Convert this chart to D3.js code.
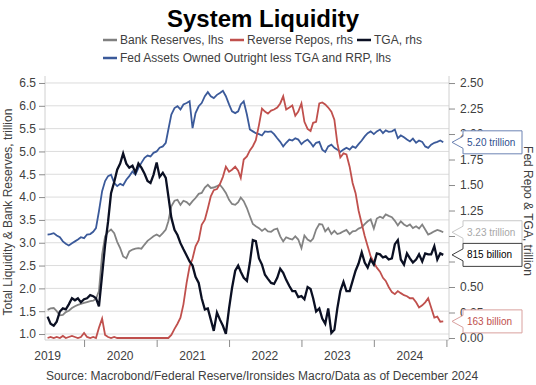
<html>
<head>
<meta charset="utf-8">
<script src="https://cdn.jsdelivr.net/npm/d3@7"></script>
<style>
  body { margin: 0; background: #fff; }
  svg text { font-family: "Liberation Sans", Arial, sans-serif; }
</style>
</head>
<body>
<svg id="chart" width="536" height="385"></svg>
<script>
// semi-monthly observations starting 2019-07-01 (1st and 16th of each month)
const startYear = 2019, startMonth = 6

// Fed assets owned outright less TGA and RRP, trillion (lhs)
const fedAssets = [
  3.18, 3.19, 3.21, 3.16, 3.12, 3.03, 2.98, 2.94, 2.99, 3.03,
  3.07, 3.12, 3.10, 3.18, 3.19, 3.24, 3.32, 3.69, 4.13, 4.35,
  4.46, 4.49, 4.31, 4.24, 4.29, 4.26, 4.38, 4.46, 4.56, 4.49,
  4.64, 4.75, 4.86, 4.91, 4.89, 4.97, 5.00, 5.08, 5.11, 5.19,
  5.48, 5.81, 5.95, 5.99, 5.92, 6.03, 6.06, 6.10, 5.51, 5.84,
  5.99, 6.06, 6.21, 6.30, 6.21, 6.17, 6.24, 6.28, 6.33, 6.21,
  6.03, 5.88, 5.84, 5.88, 6.03, 6.10, 5.81, 5.48, 5.44, 5.40,
  5.38, 5.35, 5.44, 5.43, 5.44, 5.38, 5.29, 5.21, 5.11, 5.19,
  5.26, 5.24, 5.29, 5.26, 5.16, 5.22, 5.26, 5.19, 5.11, 5.19,
  5.21, 5.04, 4.99, 5.11, 5.15, 5.08, 5.04, 4.99, 5.04, 5.08,
  5.04, 5.11, 5.08, 5.16, 5.24, 5.33, 5.40, 5.44, 5.38, 5.44,
  5.48, 5.40, 5.46, 5.43, 5.44, 5.48, 5.29, 5.35, 5.31, 5.26,
  5.22, 5.28, 5.19, 5.24, 5.21, 5.11, 5.08, 5.15, 5.19, 5.21,
  5.24, 5.20
]

// Bank reserves, trillion (lhs)
const bankReserves = [
  1.53, 1.56, 1.57, 1.50, 1.41, 1.42, 1.48, 1.51, 1.57, 1.61,
  1.64, 1.66, 1.68, 1.70, 1.72, 1.73, 1.77, 1.94, 2.74, 3.14,
  3.24, 3.29, 3.21, 3.02, 2.88, 2.70, 2.66, 2.81, 2.85, 2.87,
  2.88, 2.87, 2.96, 3.04, 3.09, 3.14, 3.18, 3.14, 3.21, 3.29,
  3.47, 3.80, 3.92, 3.94, 3.83, 3.92, 3.89, 3.83, 3.91, 3.98,
  4.07, 4.09, 4.21, 4.27, 4.20, 4.21, 4.24, 4.27, 4.19, 4.09,
  3.94, 3.85, 3.83, 3.89, 3.99, 3.91, 3.76, 3.58, 3.41, 3.36,
  3.32, 3.26, 3.31, 3.25, 3.24, 3.29, 3.31, 3.14, 3.03, 3.12,
  3.09, 3.07, 3.14, 3.07, 2.88, 3.16, 3.07, 3.03, 3.09, 3.29,
  3.41, 3.40, 3.25, 3.32, 3.19, 3.26, 3.19, 3.21, 3.25, 3.28,
  3.19, 3.25, 3.26, 3.31, 3.34, 3.41, 3.47, 3.51, 3.31, 3.53,
  3.57, 3.54, 3.62, 3.59, 3.56, 3.48, 3.38, 3.47, 3.40, 3.36,
  3.40, 3.32, 3.36, 3.31, 3.40, 3.29, 3.18, 3.21, 3.25, 3.28,
  3.26, 3.23
]

// Reverse repos, trillion (rhs)
const reverseRepos = [
  0.00, 0.01, 0.00, 0.01, 0.00, 0.02, 0.00, 0.01, 0.02, 0.01,
  0.00, 0.01, 0.05, 0.01, 0.00, 0.01, 0.00, 0.10, 0.19, 0.03,
  0.01, 0.00, 0.01, 0.00, 0.00, 0.00, 0.00, 0.00, 0.00, 0.00,
  0.00, 0.00, 0.00, 0.00, 0.00, 0.00, 0.00, 0.00, 0.00, 0.00,
  0.00, 0.03, 0.09, 0.14, 0.20, 0.33, 0.54, 0.70, 0.78, 0.90,
  0.96, 1.11, 1.16, 1.27, 1.39, 1.45, 1.46, 1.51, 1.58, 1.68,
  1.63, 1.65, 1.68, 1.64, 1.57, 1.75, 1.78, 1.84, 1.88, 1.94,
  2.09, 2.25, 2.22, 2.20, 2.23, 2.24, 2.26, 2.30, 2.37, 2.24,
  2.26, 2.28, 2.18, 2.22, 2.30, 2.12, 2.05, 2.03, 2.11, 2.12,
  2.30, 2.31, 2.29, 2.26, 2.22, 2.14, 1.91, 1.77, 1.81, 1.80,
  1.68, 1.52, 1.42, 1.25, 1.12, 1.00, 0.90, 0.80, 0.74, 0.69,
  0.65, 0.59, 0.56, 0.50, 0.45, 0.43, 0.46, 0.44, 0.42, 0.41,
  0.39, 0.39, 0.35, 0.30, 0.32, 0.35, 0.39, 0.30, 0.20, 0.21,
  0.16, 0.163
]

// Treasury General Account, trillion (rhs)
const tga = [
  0.21, 0.14, 0.12, 0.16, 0.26, 0.29, 0.28, 0.33, 0.39, 0.37,
  0.39, 0.35, 0.38, 0.39, 0.42, 0.41, 0.39, 0.31, 0.62, 0.91,
  1.14, 1.42, 1.53, 1.65, 1.71, 1.81, 1.71, 1.67, 1.69, 1.62,
  1.71, 1.67, 1.61, 1.54, 1.52, 1.60, 1.72, 1.58, 1.62, 1.57,
  1.39, 1.18, 1.06, 1.01, 0.93, 0.87, 0.81, 0.75, 0.71, 0.60,
  0.54, 0.39, 0.28, 0.29, 0.18, 0.07, 0.25, 0.18, 0.12, 0.04,
  0.29, 0.49, 0.66, 0.71, 0.65, 0.59, 0.56, 0.74, 0.96, 0.95,
  0.78, 0.72, 0.62, 0.58, 0.54, 0.53, 0.59, 0.68, 0.64, 0.57,
  0.51, 0.46, 0.46, 0.40, 0.41, 0.38, 0.50, 0.48, 0.39, 0.26,
  0.29, 0.19, 0.14, 0.29, 0.05, 0.08, 0.29, 0.46, 0.55, 0.46,
  0.46, 0.56, 0.66, 0.73, 0.84, 0.74, 0.69, 0.77, 0.72, 0.83,
  0.82, 0.79, 0.80, 0.77, 0.78, 0.92, 0.96, 0.77, 0.72, 0.83,
  0.78, 0.74, 0.77, 0.82, 0.75, 0.83, 0.82, 0.82, 0.90, 0.77,
  0.83, 0.815
]

const leftTicks = [1.0, 1.5, 2.0, 2.5, 3.0, 3.5, 4.0, 4.5, 5.0, 5.5, 6.0, 6.5]
const rightTicks = [0, 0.25, 0.5, 0.75, 1.0, 1.25, 1.5, 1.75, 2.0, 2.25, 2.5]
// right tick labels that sit fully behind the value callouts
const rightHidden = [0.75, 1.0]
const yearLabels = [2019, 2020, 2021, 2022, 2023, 2024]

const calloutText = ["5.20 trillion", "3.23 trillion", "815 billion", "163 billion"]
const calloutValue = [5.20, 3.23, 0.815, 0.163]
const calloutAxis = ["left", "left", "right", "right"]

const dates = fedAssets.map(function (d, i) {
  return new Date(startYear, startMonth + Math.floor(i / 2), i % 2 == 0 ? 1 : 16)
})

const L = 45, R = 449, T = 76, B = 340
const svg = d3.select("#chart")

const x = d3.scaleTime().domain([new Date(2019, 5, 18), new Date(2025, 0, 14)]).range([L, R])
const yL = d3.scaleLinear().domain([0.869, 6.653]).range([B, T])
const yR = d3.scaleLinear().domain([-0.0196, 2.569]).range([B, T])

// title
svg.append("text").attr("x", 263).attr("y", 27).attr("text-anchor", "middle")
  .style("font-size", "24px").style("font-weight", "bold").attr("fill", "#000")
  .text("System Liquidity")

// legend
const legend = [
  { name: "Bank Reserves, lhs", color: "#808080", x: 103, y: 40 },
  { name: "Reverse Repos, rhs", color: "#c0504d", x: 230, y: 40 },
  { name: "TGA, rhs", color: "#0b1023", x: 357, y: 40 },
  { name: "Fed Assets Owned Outright less TGA and RRP, lhs", color: "#3b5a9a", x: 103, y: 58 }
]
legend.forEach(function (d) {
  svg.append("line").attr("x1", d.x).attr("x2", d.x + 14).attr("y1", d.y).attr("y2", d.y)
    .attr("stroke", d.color).attr("stroke-width", 2.5)
  svg.append("text").attr("x", d.x + 17).attr("y", d.y + 4.3)
    .style("font-size", "12px").attr("fill", "#404040").text(d.name)
})

// gridlines
svg.append("g").selectAll("line").data(leftTicks).enter().append("line")
  .attr("x1", L).attr("x2", R)
  .attr("y1", d => yL(d)).attr("y2", d => yL(d))
  .attr("stroke", "#dcdcdc").attr("stroke-width", 1)

// frame
svg.append("line").attr("x1", L).attr("x2", L).attr("y1", T).attr("y2", B).attr("stroke", "#d0d0d0")
svg.append("line").attr("x1", R).attr("x2", R).attr("y1", T).attr("y2", B).attr("stroke", "#d0d0d0")
svg.append("line").attr("x1", L).attr("x2", R).attr("y1", B).attr("y2", B).attr("stroke", "#d0d0d0")

// left axis
const gl = svg.append("g").attr("transform", "translate(" + L + ",0)")
  .call(d3.axisLeft(yL).tickValues(leftTicks).tickSize(6).tickPadding(3).tickFormat(d3.format(".1f")))
gl.select(".domain").remove()

// right axis
const fmtR = d3.format(".2f")
const gr = svg.append("g").attr("transform", "translate(" + R + ",0)")
  .call(d3.axisRight(yR).tickValues(rightTicks).tickSize(6).tickPadding(5)
    .tickFormat(d => rightHidden.includes(d) ? "" : fmtR(d)))
gr.select(".domain").remove()

// x axis: ticks at year boundaries, labels mid-year
const yearTicks = yearLabels.map(y => new Date(y + 1, 0, 1))
const gx = svg.append("g").attr("transform", "translate(0," + B + ")")
  .call(d3.axisBottom(x).tickValues(yearTicks).tickSize(7).tickFormat(""))
gx.select(".domain").remove()
svg.append("g").selectAll("text").data(yearLabels).enter().append("text")
  .attr("x", d => x(new Date(d, 6, 1)))
  .attr("y", 360).attr("text-anchor", "middle")
  .style("font-size", "12px").attr("fill", "#404040").text(d => d)

svg.selectAll(".tick line").attr("stroke", "#8c8c8c")
svg.selectAll(".tick text").style("font-size", "12px").attr("fill", "#404040")
  .style("font-family", "'Liberation Sans', Arial, sans-serif")

// axis titles
svg.append("text").attr("transform", "translate(12,212) rotate(-90)")
  .attr("text-anchor", "middle").style("font-size", "12px").attr("fill", "#404040")
  .text("Total Liquidity & Bank Reserves, trillion")
svg.append("text").attr("transform", "translate(524,211) rotate(90)")
  .attr("text-anchor", "middle").style("font-size", "12px").attr("fill", "#404040")
  .text("Fed Repo & TGA, trillion")

// series
const lineL = d3.line().x((d, i) => x(dates[i])).y(d => yL(d))
const lineR = d3.line().x((d, i) => x(dates[i])).y(d => yR(d))

svg.append("path").datum(bankReserves).attr("d", lineL)
  .attr("fill", "none").attr("stroke", "#838383").attr("stroke-width", 1.8)
svg.append("path").datum(fedAssets).attr("d", lineL)
  .attr("fill", "none").attr("stroke", "#3b5a9a").attr("stroke-width", 1.8)
svg.append("path").datum(reverseRepos).attr("d", lineR)
  .attr("fill", "none").attr("stroke", "#c0504d").attr("stroke-width", 1.8)
svg.append("path").datum(tga).attr("d", lineR)
  .attr("fill", "none").attr("stroke", "#0b1023").attr("stroke-width", 2.3)

// last-value callouts
const calloutStroke = ["#6d83b3", "#c8c8c8", "#404040", "#d9a09e"]
const calloutFill = ["#2f4f8f", "#a8a8a8", "#000000", "#c0504d"]
calloutText.forEach(function (t, i) {
  const cy = calloutAxis[i] == "left" ? yL(calloutValue[i]) : yR(calloutValue[i])
  const bx = 463, bw = 59, bh = 23, tip = 452
  const top = cy - bh / 2, bot = cy + bh / 2
  svg.append("path")
    .attr("d", "M" + tip + "," + cy + "L" + bx + "," + (cy - 6) + "L" + bx + "," + top +
      "L" + (bx + bw) + "," + top + "L" + (bx + bw) + "," + bot + "L" + bx + "," + bot +
      "L" + bx + "," + (cy + 6) + "Z")
    .attr("fill", "#fff").attr("stroke", calloutStroke[i]).attr("stroke-width", 1)
  svg.append("text").attr("x", bx + 4).attr("y", cy + 3.6)
    .style("font-size", "10px").attr("fill", calloutFill[i]).text(t)
})

// source
svg.append("text").attr("x", 262).attr("y", 380).attr("text-anchor", "middle")
  .style("font-size", "12px").attr("fill", "#404040")
  .text("Source: Macrobond/Federal Reserve/Ironsides Macro/Data as of December 2024")
</script>
</body>
</html>
